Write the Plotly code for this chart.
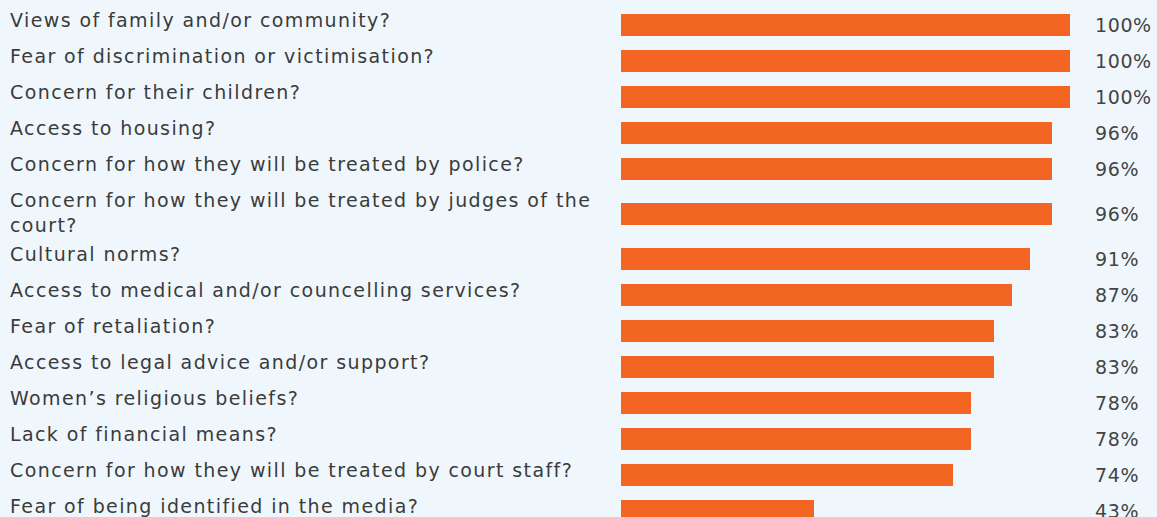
import plotly.graph_objects as go

categories = [
    "Views of family and/or community?",
    "Fear of discrimination or victimisation?",
    "Concern for their children?",
    "Access to housing?",
    "Concern for how they will be treated by police?",
    "Concern for how they will be treated by judges of the<br>court?",
    "Cultural norms?",
    "Access to medical and/or councelling services?",
    "Fear of retaliation?",
    "Access to legal advice and/or support?",
    "Women’s religious beliefs?",
    "Lack of financial means?",
    "Concern for how they will be treated by court staff?",
    "Fear of being identified in the media?",
]
values = [100, 100, 100, 96, 96, 96, 91, 87, 83, 83, 78, 78, 74, 43]

W, H = 1157, 517
ROW_PX = 36.0
TOP_PX = 7.0
BAR_LEFT_PX = 621.0
BAR_FULL_PX = 449.0  # pixels for 100%

# row heights (in row units): two-line labels take 1.5 rows
heights = [1.5 if "<br>" in c else 1.0 for c in categories]
tops, centers = [], []
t = 0.0
for h in heights:
    tops.append(t)
    centers.append(t + h / 2)
    t += h

bg = "#eff7fd"
orange = "#f26522"
label_font = dict(family="DejaVu Sans, sans-serif", size=19, color="#3b3b3b")
pct_font = dict(family="DejaVu Sans, sans-serif", size=19, color="#444444")


def spaced(txt, px):
    return "<br>".join(
        f'<span style="letter-spacing:{px}px">{part}</span>' for part in txt.split("<br>")
    )


fig = go.Figure()
fig.add_trace(go.Bar(
    x=values, y=centers, orientation="h",
    width=22 / ROW_PX, marker=dict(color=orange, line=dict(width=0)),
    hoverinfo="skip",
))

annotations = []
for cat, top, c, v in zip(categories, tops, centers, values):
    annotations.append(dict(
        x=8 / W, xref="paper", y=top, yref="y",
        xanchor="left", yanchor="top", yshift=0,
        text=spaced(cat, 1.4), showarrow=False, align="left", font=label_font,
    ))
    annotations.append(dict(
        x=1093 / W, xref="paper", y=c, yref="y",
        xanchor="left", yanchor="middle",
        text=spaced(f"{v}%", 0.6), showarrow=False, align="left", font=pct_font,
    ))

x_max = 100 * (W - BAR_LEFT_PX) / BAR_FULL_PX
fig.update_layout(
    width=W, height=H,
    margin=dict(l=0, r=0, t=0, b=0),
    paper_bgcolor=bg, plot_bgcolor=bg,
    showlegend=False,
    xaxis=dict(domain=[BAR_LEFT_PX / W, 1], range=[0, x_max], visible=False, fixedrange=True),
    yaxis=dict(range=[(H - TOP_PX) / ROW_PX, -TOP_PX / ROW_PX], visible=False, fixedrange=True),
    annotations=annotations,
    bargap=0,
)

fig.write_html(
    "out.html",
    config={"displayModeBar": False},
    post_script="document.body.style.margin='0';document.body.style.overflow='hidden';",
)
